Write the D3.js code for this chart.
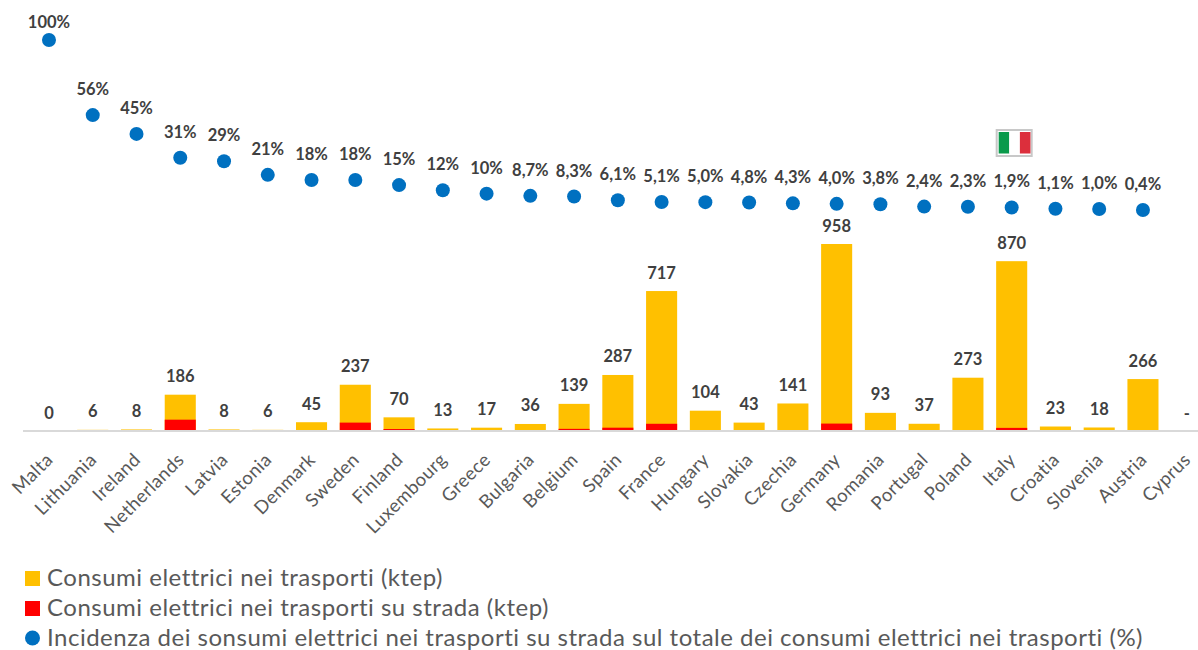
<!DOCTYPE html>
<html><head><meta charset="utf-8">
<script src="https://cdnjs.cloudflare.com/ajax/libs/d3/7.8.5/d3.min.js"></script>
<style>html,body{margin:0;background:#fff}svg{display:block}text{font-family:Lato,sans-serif}</style>
</head><body><svg id="c" width="1198" height="650"></svg>
<script>
const categories=["Malta","Lithuania","Ireland","Netherlands","Latvia","Estonia","Denmark","Sweden","Finland","Luxembourg","Greece","Bulgaria","Belgium","Spain","France","Hungary","Slovakia","Czechia","Germany","Romania","Portugal","Poland","Italy","Croatia","Slovenia","Austria","Cyprus"];
const totalKtep=[0,6,8,186,8,6,45,237,70,13,17,36,139,287,717,104,43,141,958,93,37,273,870,23,18,266,null];
const roadKtep=[0,0,0,58,0,0,0,43,10,0,0,0,11,17,37,0,0,0,38,0,0,0,16,0,0,0,null];
const sharePct=[100,56,45,31,29,21,18,18,15,12,10,8.7,8.3,6.1,5.1,5.0,4.8,4.3,4.0,3.8,2.4,2.3,1.9,1.1,1.0,0.4,null];
const shareLabels=["100%","56%","45%","31%","29%","21%","18%","18%","15%","12%","10%","8,7%","8,3%","6,1%","5,1%","5,0%","4,8%","4,3%","4,0%","3,8%","2,4%","2,3%","1,9%","1,1%","1,0%","0,4%",""];
const legendLabels=["Consumi elettrici nei trasporti (ktep)","Consumi elettrici nei trasporti su strada (ktep)","Incidenza dei sonsumi elettrici nei trasporti su strada sul totale dei consumi elettrici nei trasporti (%)"];
const colors={total:"#FFC000",road:"#FF0000",share:"#0070C0"};
const svg=d3.select("#c");
const x=d3.scaleBand().domain(categories).range([27.1,1208.6]).paddingInner(0.29).paddingOuter(0.145);
const y=d3.scaleLinear().domain([0,958]).range([431,244]);
const yS=d3.scaleLinear().domain([0,100]).range([210.7,40]);
const cx=c=>x(c)+x.bandwidth()/2;
const rows=categories.map((c,i)=>({c,t:totalKtep[i],r:roadKtep[i],s:sharePct[i],l:shareLabels[i]}));
const barRows=rows.filter(d=>d.t!==null);
svg.append("g").selectAll("rect").data(barRows).join("rect").attr("x",d=>x(d.c)).attr("width",x.bandwidth()).attr("y",d=>y(d.t)).attr("height",d=>y(0)-y(d.t)).attr("fill",colors.total);
svg.append("g").selectAll("rect").data(barRows).join("rect").attr("x",d=>x(d.c)).attr("width",x.bandwidth()).attr("y",d=>y(d.r)).attr("height",d=>y(0)-y(d.r)).attr("fill",colors.road);
svg.append("line").attr("x1",23).attr("x2",1198).attr("y1",431).attr("y2",431).attr("stroke","#D9D9D9").attr("stroke-width",2);
svg.append("g").selectAll("text").data(rows).join("text").attr("x",d=>cx(d.c)).attr("y",d=>(d.t===null?y(0):y(d.t))-12.5).attr("text-anchor","middle").attr("font-size",16.5).attr("font-weight",700).attr("fill","#404040").text(d=>d.t===null?"-":d.t);
svg.append("g").selectAll("text").data(categories).join("text").attr("text-anchor","end").attr("font-size",18.5).attr("letter-spacing",0.4).attr("fill","#595959").attr("transform",c=>`translate(${cx(c)+5},${461}) rotate(-45)`).text(c=>c);
const pts=rows.filter(d=>d.s!==null);
svg.append("g").selectAll("circle").data(pts).join("circle").attr("cx",d=>cx(d.c)).attr("cy",d=>yS(d.s)).attr("r",7).attr("fill",colors.share);
svg.append("g").selectAll("text").data(pts).join("text").attr("x",d=>cx(d.c)).attr("y",d=>Math.max(28,yS(d.s)-20)).attr("text-anchor","middle").attr("font-size",16.5).attr("font-weight",700).attr("fill","#404040").text(d=>d.l);
const flagX=cx("Italy")-15;
const flag=svg.append("g");
flag.append("rect").attr("x",flagX).attr("y",130).attr("width",35).attr("height",26).attr("fill","#fff").attr("stroke","#C8C8C8").attr("stroke-width",2);
[["#0A9A4B",0],["#FFFFFF",1],["#DC2F3C",2]].forEach(([col,i])=>flag.append("rect").attr("x",flagX+2+i*10.6).attr("y",132).attr("width",10.6).attr("height",21.5).attr("fill",col));
const lg=svg.append("g");
const ly=[578,608,638];
lg.append("rect").attr("x",25).attr("y",571).attr("width",15).attr("height",15).attr("fill",colors.total);
lg.append("rect").attr("x",25).attr("y",601).attr("width",15).attr("height",15).attr("fill",colors.road);
lg.append("circle").attr("cx",32.5).attr("cy",638).attr("r",7.5).attr("fill",colors.share);
lg.selectAll("text").data(legendLabels).join("text").attr("x",47).attr("y",(d,i)=>ly[i]+8).attr("font-size",24).attr("letter-spacing",0.5).attr("fill","#595959").text(d=>d);
</script></body></html>
